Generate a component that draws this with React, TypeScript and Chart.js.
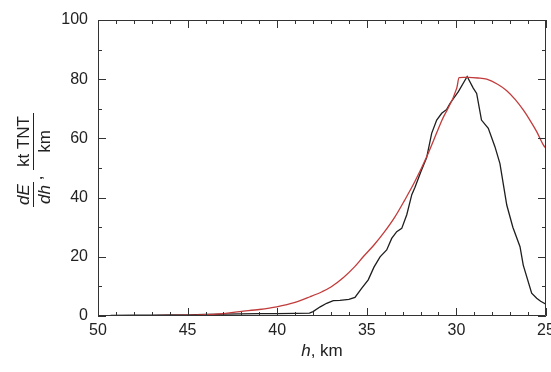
import React, { useEffect, useRef } from "react";
import { Chart, registerables } from "chart.js";

Chart.register(...registerables);

// Observed energy deposition (black)
const observedH = [
  49.3, 48, 47, 46, 45, 44, 43, 42, 41, 40, 39, 38.2, 38.0, 37.6, 37.24, 36.87, 36.5,
  36.0, 35.66, 35.29, 34.92, 34.6, 34.26, 33.89, 33.61, 33.33, 33.05, 32.77, 32.49,
  32.31, 32.0, 31.66, 31.38, 31.1, 30.82, 30.54, 30.36, 29.89, 29.4, 29.06, 28.87,
  28.6, 28.22, 27.85, 27.57, 27.38, 27.19, 26.85, 26.45, 26.27, 25.8, 25.52, 25.3, 25.0,
];
const observedE = [
  0.2, 0.3, 0.3, 0.4, 0.4, 0.5, 0.6, 0.7, 0.8, 0.8, 0.9, 1.0, 1.5, 3.1, 4.3, 5.2, 5.3,
  5.6, 6.3, 9.3, 12.2, 16.5, 20.0, 22.3, 26.2, 28.5, 29.6, 34.2, 41.0,
  43.5, 48.5, 53.5, 61.7, 66.2, 68.5, 69.8, 71.8, 75.8, 80.9, 77.0, 75.2,
  66.2, 63.4, 57.2, 51.5, 44.5, 37.5, 30.0, 23.4, 17.2, 7.7, 6.0, 5.0, 4.0,
];

// Model energy deposition (red)
const modelH = [
  49.3, 48, 47, 46, 45, 44.3, 43, 42.08, 41, 40.03, 39, 38.17, 37.5, 37.0, 36.3, 35.7,
  35.2, 34.6, 34.08, 33.43, 32.9, 32.31, 31.57, 30.82, 29.98, 29.85, 29.6,
  29.33, 28.8, 28.31, 27.7, 27.19, 26.7, 26.27, 25.9, 25.52, 25.15, 25.0,
];
const modelE = [
  0.1, 0.1, 0.15, 0.2, 0.25, 0.35, 0.8, 1.5, 2.2, 3.1, 4.6, 6.5, 8.2, 9.8, 13.0, 16.5,
  20.0, 24.0, 27.9, 33.5, 39.0, 45.5, 55.0, 66.0, 77.0, 80.5, 80.6,
  80.6, 80.4, 80.0, 78.3, 76.1, 73.0, 69.6, 66.2, 62.3, 57.8, 56.6,
];

const xMin = 25;
const xMax = 50;
const xStep = 5;
const yMin = 0;
const yMax = 100;
const yStep = 20;

const FONT = "'Liberation Sans', Arial, sans-serif";

const framePlugin = {
  id: "frameTicks",
  afterDatasetsDraw(chart: any) {
    const { ctx, chartArea, scales } = chart;
    const { left, right, top, bottom } = chartArea;
    const x = scales.x;
    const y = scales.y;
    ctx.save();
    ctx.strokeStyle = "#333";
    ctx.lineWidth = 1;
    ctx.beginPath();
    ctx.rect(left + 0.5, top + 0.5, right - left - 1, bottom - top - 1);
    for (let v = xMin; v <= xMax; v++) {
      const px = Math.round(x.getPixelForValue(v)) + 0.5;
      const len = v % 5 === 0 ? 8 : 4;
      ctx.moveTo(px, bottom);
      ctx.lineTo(px, bottom - len);
      ctx.moveTo(px, top);
      ctx.lineTo(px, top + len);
    }
    for (let v = yMin; v <= yMax; v += 10) {
      const py = Math.round(y.getPixelForValue(v)) + 0.5;
      const len = v % 20 === 0 ? 8 : 4;
      ctx.moveTo(left, py);
      ctx.lineTo(left + len, py);
      ctx.moveTo(right, py);
      ctx.lineTo(right - len, py);
    }
    ctx.stroke();
    ctx.restore();
  },
  afterDraw(chart: any) {
    const { ctx, chartArea } = chart;
    const { left, right } = chartArea;
    ctx.save();
    ctx.fillStyle = "#222";
    ctx.strokeStyle = "#222";
    // x-axis title: italic h, then ", km"
    const cx = (left + right) / 2;
    ctx.textBaseline = "alphabetic";
    ctx.textAlign = "left";
    ctx.font = `italic 17px ${FONT}`;
    const wh = ctx.measureText("h").width;
    ctx.font = `17px ${FONT}`;
    const wr = ctx.measureText(", km").width;
    const start = cx - (wh + wr) / 2;
    ctx.font = `italic 17px ${FONT}`;
    ctx.fillText("h", start, 356);
    ctx.font = `17px ${FONT}`;
    ctx.fillText(", km", start + wh, 356);

    // y-axis title: dE/dh , kt TNT / km (rotated)
    ctx.translate(33, 160);
    ctx.rotate(-Math.PI / 2);
    ctx.textAlign = "center";
    ctx.lineWidth = 1;
    ctx.font = `italic 17px ${FONT}`;
    ctx.fillText("dE", -34.5, -4);
    ctx.fillText("dh", -34.5, 17);
    ctx.beginPath();
    ctx.moveTo(-47, 0.5);
    ctx.lineTo(-22, 0.5);
    ctx.moveTo(-10, 0.5);
    ctx.lineTo(47, 0.5);
    ctx.stroke();
    ctx.font = `17px ${FONT}`;
    ctx.fillText(",", -18, 9);
    ctx.fillText("kt TNT", 18.5, -4);
    ctx.fillText("km", 18.5, 17);
    ctx.restore();
  },
};

export default function App() {
  const canvasRef = useRef<HTMLCanvasElement | null>(null);

  useEffect(() => {
    const canvas = canvasRef.current;
    if (!canvas) return;
    const observed = observedH.map((h, i) => ({ x: h, y: observedE[i] }));
    const model = modelH.map((h, i) => ({ x: h, y: modelE[i] }));
    const chart = new Chart(canvas, {
      type: "line",
      data: {
        datasets: [
          {
            label: "model",
            data: model,
            borderColor: "#c23b3b",
            borderWidth: 1.3,
            pointRadius: 0,
            tension: 0,
            cubicInterpolationMode: "monotone",
            fill: false,
          },
          {
            label: "observed",
            data: observed,
            borderColor: "#1e1e1e",
            borderWidth: 1.3,
            pointRadius: 0,
            tension: 0,
            fill: false,
          },
        ],
      },
      options: {
        animation: false,
        responsive: false,
        devicePixelRatio: 1,
        layout: { padding: { left: 0, right: 5, top: 20, bottom: 0 } },
        plugins: {
          legend: { display: false },
          tooltip: { enabled: false },
          title: { display: false },
        },
        scales: {
          x: {
            type: "linear",
            reverse: true,
            min: xMin,
            max: xMax,
            grid: { display: false, drawTicks: false },
            border: { display: false },
            ticks: {
              stepSize: xStep,
              padding: 5,
              color: "#222",
              font: { family: FONT, size: 16 },
              maxRotation: 0,
            },
            afterFit(scale: any) {
              scale.height = 56;
              scale.paddingLeft = 0;
              scale.paddingRight = 0;
            },
          },
          y: {
            type: "linear",
            min: yMin,
            max: yMax,
            grid: { display: false, drawTicks: false },
            border: { display: false },
            ticks: {
              stepSize: yStep,
              padding: 10,
              color: "#222",
              font: { family: FONT, size: 16 },
            },
            afterFit(scale: any) {
              scale.width = 98;
              scale.paddingTop = 0;
              scale.paddingBottom = 0;
            },
          },
        },
      },
      plugins: [framePlugin],
    } as any);
    return () => chart.destroy();
  }, []);

  return (
    <div style={{ position: "fixed", left: 0, top: 0, width: 551, height: 372, background: "#fff" }}>
      <canvas ref={canvasRef} width={551} height={372} style={{ display: "block" }} />
    </div>
  );
}
